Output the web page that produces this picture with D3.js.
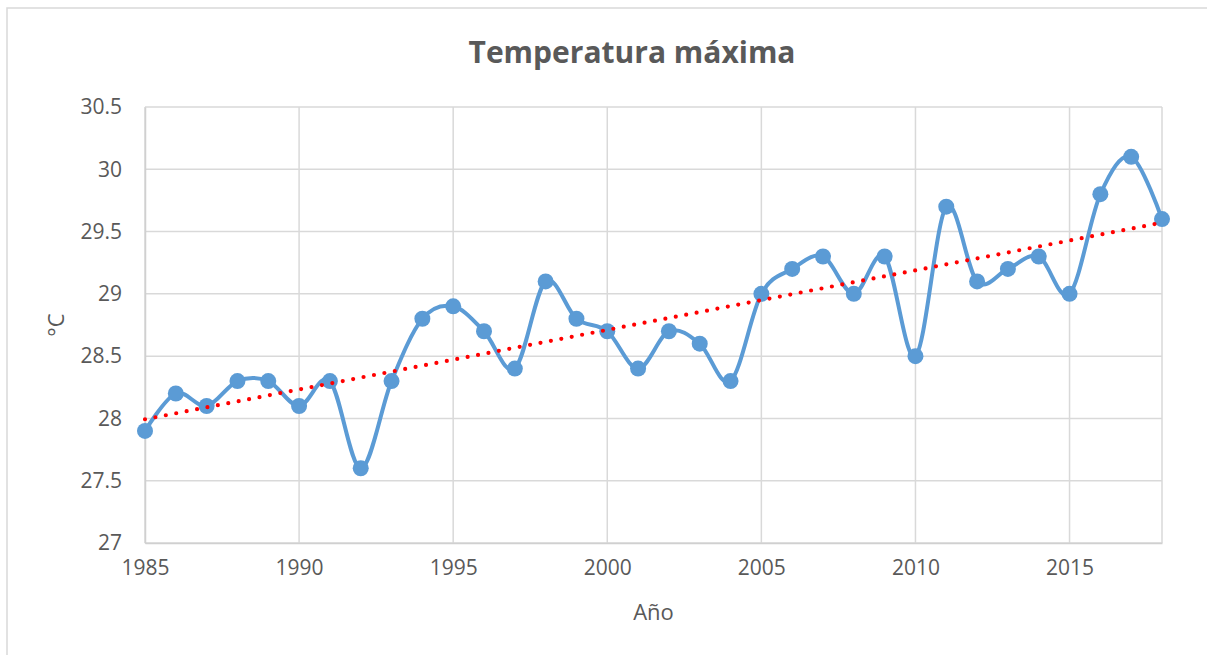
<!DOCTYPE html>
<html>
<head>
<meta charset="utf-8">
<script src="https://cdn.jsdelivr.net/npm/d3@7"></script>
<style>
  html, body { margin: 0; padding: 0; background: #fff; }
  svg { display: block; }
  text { font-family: "Open Sans", "Noto Sans", sans-serif; fill: #595959; }
</style>
</head>
<body>
<svg id="chart" width="1207" height="655"></svg>
<script>
// Annual maximum temperature
const years = [1985, 1986, 1987, 1988, 1989, 1990, 1991, 1992, 1993, 1994,
  1995, 1996, 1997, 1998, 1999, 2000, 2001, 2002, 2003, 2004,
  2005, 2006, 2007, 2008, 2009, 2010, 2011, 2012, 2013, 2014,
  2015, 2016, 2017, 2018];
const tmax = [27.9, 28.2, 28.1, 28.3, 28.3, 28.1, 28.3, 27.6, 28.3, 28.8,
  28.9, 28.7, 28.4, 29.1, 28.8, 28.7, 28.4, 28.7, 28.6, 28.3,
  29.0, 29.2, 29.3, 29.0, 29.3, 28.5, 29.7, 29.1, 29.2, 29.3,
  29.0, 29.8, 30.1, 29.6];
const xTicks = [1985, 1990, 1995, 2000, 2005, 2010, 2015];
const yTicks = [27, 27.5, 28, 28.5, 29, 29.5, 30, 30.5];

const svg = d3.select('#chart');
const plot = { left: 145, right: 1162, top: 107, bottom: 543 };

const x = d3.scaleLinear().domain([1985, 2018]).range([plot.left, plot.right]);
const y = d3.scaleLinear().domain([27, 30.5]).range([plot.bottom, plot.top]);

// chart frame (only left/top edges are visible in the crop)
svg.append('rect')
  .attr('x', 7).attr('y', 8).attr('width', 1260).attr('height', 700)
  .attr('fill', 'none').attr('stroke', '#d9d9d9').attr('stroke-width', 1.5);

svg.append('text')
  .attr('x', 632).attr('y', 63).attr('text-anchor', 'middle')
  .attr('font-size', '30px').attr('font-weight', 700)
  .text('Temperatura máxima');

// gridlines
const grid = svg.append('g').attr('stroke', '#d9d9d9').attr('stroke-width', 1.5);
grid.selectAll('line.h').data(yTicks).join('line')
  .attr('class', 'h')
  .attr('x1', plot.left).attr('x2', plot.right)
  .attr('y1', d => y(d)).attr('y2', d => y(d));
grid.selectAll('line.v').data(xTicks).join('line')
  .attr('class', 'v')
  .attr('x1', d => x(d)).attr('x2', d => x(d))
  .attr('y1', plot.top).attr('y2', plot.bottom);
grid.append('line')
  .attr('x1', plot.right).attr('x2', plot.right)
  .attr('y1', plot.top).attr('y2', plot.bottom);

// axes via d3, restyled to look like the spreadsheet chart
const xAxis = svg.append('g')
  .attr('transform', `translate(0,${plot.bottom})`)
  .call(d3.axisBottom(x).tickValues(xTicks).tickFormat(d3.format('d')).tickSize(0).tickPadding(17));
const yAxis = svg.append('g')
  .attr('transform', `translate(${plot.left},0)`)
  .call(d3.axisLeft(y).tickValues(yTicks).tickFormat(d => String(d)).tickSize(0).tickPadding(23));
[xAxis, yAxis].forEach(a => {
  a.select('.domain').attr('stroke', '#d0d0d0').attr('stroke-width', 1.5);
  a.selectAll('text').attr('font-size', '21px').attr('fill', '#595959')
    .style('font-family', '"Open Sans", "Noto Sans", sans-serif');
});
xAxis.selectAll('text').attr('dy', '0.71em');

svg.append('text')
  .attr('x', (plot.left + plot.right) / 2).attr('y', 620).attr('text-anchor', 'middle')
  .attr('font-size', '22px').text('Año');
svg.append('text')
  .attr('transform', 'translate(64,325) rotate(-90)').attr('text-anchor', 'middle')
  .attr('font-size', '22px').text('°C');

// series
const pts = years.map((yr, i) => [yr, tmax[i]]);
const line = d3.line().x(d => x(d[0])).y(d => y(d[1])).curve(d3.curveCatmullRom.alpha(0));
svg.append('path').datum(pts)
  .attr('d', line).attr('fill', 'none')
  .attr('stroke', '#5b9bd5').attr('stroke-width', 4).attr('stroke-linejoin', 'round');
svg.append('g').selectAll('circle').data(pts).join('circle')
  .attr('cx', d => x(d[0])).attr('cy', d => y(d[1])).attr('r', 8)
  .attr('fill', '#5b9bd5');

// linear trendline (least squares, as the spreadsheet computes it)
const mx = d3.mean(years), my = d3.mean(tmax);
const slope = d3.sum(years, (yr, i) => (yr - mx) * (tmax[i] - my)) / d3.sum(years, yr => (yr - mx) ** 2);
const trend = [1985, 2018].map(yr => [yr, my + slope * (yr - mx)]);
svg.append('path').datum(trend)
  .attr('d', d3.line().x(d => x(d[0])).y(d => y(d[1])))
  .attr('fill', 'none').attr('stroke', '#ff0000').attr('stroke-width', 4.2)
  .attr('stroke-linecap', 'round').attr('stroke-dasharray', '0 10.6');
</script>
</body>
</html>
